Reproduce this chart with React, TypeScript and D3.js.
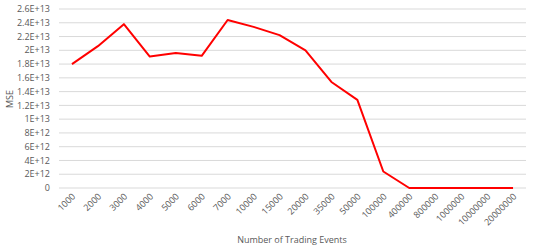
import React from "react";
import { scaleBand, scaleLinear, line } from "d3";

const categories = [
  "1000", "2000", "3000", "4000", "5000", "6000", "7000", "10000", "15000",
  "20000", "35000", "50000", "100000", "400000", "800000", "1000000",
  "10000000", "20000000",
];
const mse = [
  1.8e13, 2.06e13, 2.38e13, 1.91e13, 1.96e13, 1.92e13, 2.44e13, 2.34e13,
  2.22e13, 2.0e13, 1.54e13, 1.28e13, 2.4e12, 0, 0, 0, 0, 0,
];
const yTicks = [0, 2e12, 4e12, 6e12, 8e12, 1e13, 1.2e13, 1.4e13, 1.6e13, 1.8e13, 2e13, 2.2e13, 2.4e13, 2.6e13];
const yTickLabels = [
  "0", "2E+12", "4E+12", "6E+12", "8E+12", "1E+13", "1.2E+13", "1.4E+13",
  "1.6E+13", "1.8E+13", "2E+13", "2.2E+13", "2.4E+13", "2.6E+13",
];

const W = 540;
const H = 250;
const margin = { top: 9, right: 14, bottom: 62, left: 59 };
const font = "'Open Sans', sans-serif";
const textColor = "#595959";

export default function App() {
  const innerW = W - margin.left - margin.right;
  const innerH = H - margin.top - margin.bottom;

  const x = scaleBand().domain(categories).range([0, innerW]).padding(0);
  const y = scaleLinear().domain([0, 2.6e13]).range([innerH, 0]);

  const xc = (c: string) => (x(c) ?? 0) + x.bandwidth() / 2;
  const path = line<number>()
    .x((_, i) => xc(categories[i]))
    .y((d) => y(d))(mse);

  return (
    <svg
      width={W}
      height={H}
      style={{ position: "absolute", left: 0, top: 0, background: "#fff" }}
    >
      <g transform={`translate(${margin.left},${margin.top})`}>
        {yTicks.map((t, i) => (
          <g key={t}>
            <line x1={0} x2={innerW} y1={y(t)} y2={y(t)} stroke="#d9d9d9" strokeWidth={1} />
            <text
              x={-9}
              y={y(t)}
              dy="0.35em"
              textAnchor="end"
              fontFamily={font}
              fontSize={9}
              fill={textColor}
            >
              {yTickLabels[i]}
            </text>
          </g>
        ))}
        {categories.map((c) => (
          <text
            key={c}
            transform={`translate(${xc(c) + 4},${innerH + 9}) rotate(-45)`}
            textAnchor="end"
            fontFamily={font}
            fontSize={9}
            fill={textColor}
          >
            {c}
          </text>
        ))}
        <path d={path ?? ""} fill="none" stroke="#ff0000" strokeWidth={2} strokeLinejoin="round" />
      </g>
      <text
        x={292}
        y={243}
        textAnchor="middle"
        fontFamily={font}
        fontSize={9}
        fill={textColor}
      >
        Number of Trading Events
      </text>
      <text
        transform={`translate(12.5,99) rotate(-90)`}
        textAnchor="middle"
        fontFamily={font}
        fontSize={9}
        fill={textColor}
      >
        MSE
      </text>
    </svg>
  );
}
